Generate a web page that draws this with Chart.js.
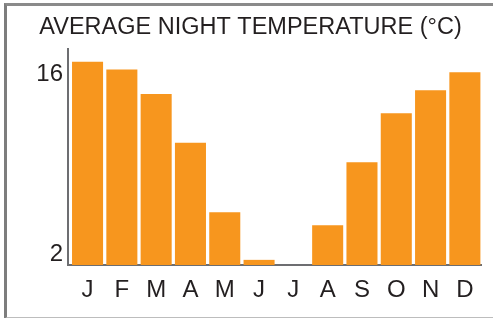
<!DOCTYPE html>
<html>
<head>
<meta charset="utf-8">
<script src="https://cdn.jsdelivr.net/npm/chart.js@4"></script>
<style>
  html, body { margin: 0; padding: 0; background: #fff; overflow: hidden; }
  #wrap { position: relative; width: 493px; height: 318px; }
  #frame {
    position: absolute; left: 4px; top: 3px; width: 600px; height: 311px;
    border-top: 3px solid #8a8a8a; border-left: 3px solid #7d7d7d; border-bottom: 2px solid #bdbdbd;
    box-sizing: content-box; pointer-events: none;
  }
  canvas { position: absolute; left: 0; top: 0; }
</style>
</head>
<body>
<div id="wrap">
  <canvas id="chart" width="493" height="318"></canvas>
  <div id="frame"></div>
</div>
<script>
  const months = ['J', 'F', 'M', 'A', 'M', 'J', 'J', 'A', 'S', 'O', 'N', 'D'];
  const nightTemps = [17.0, 16.4, 14.5, 10.7, 5.3, 1.6, 1.2, 4.3, 9.2, 13.0, 14.8, 16.2];
  const yTicks = [2, 16];

  const textColor = '#231f20';
  const axisColor = '#6d6e71';
  const font = 'Liberation Sans, Arial, sans-serif';

  // month index on a linear x axis so the first bar can sit a little off the y axis
  const points = nightTemps.map((v, i) => ({ x: i, y: v }));

  new Chart(document.getElementById('chart'), {
    type: 'bar',
    data: {
      datasets: [{
        data: points,
        backgroundColor: '#f7961e',
        borderWidth: 0,
        barPercentage: 0.905,
        categoryPercentage: 1
      }]
    },
    options: {
      responsive: false,
      animation: false,
      devicePixelRatio: 1,
      layout: { padding: { left: 20, right: 12, top: 0, bottom: 0 } },
      plugins: {
        legend: { display: false },
        tooltip: { enabled: false },
        title: {
          display: true,
          text: 'AVERAGE NIGHT TEMPERATURE (°C)',
          color: textColor,
          font: { family: font, size: 23.5, weight: 'normal', lineHeight: 1.2 },
          padding: { top: 13, bottom: 7.8 }
        }
      },
      scales: {
        x: {
          type: 'linear',
          z: 1,
          min: -0.57,
          max: 11.47,
          offset: false,
          grid: { display: false, drawTicks: false },
          border: { display: true, color: axisColor, width: 2 },
          afterBuildTicks: (scale) => { scale.ticks = months.map((m, i) => ({ value: i })); },
          ticks: {
            autoSkip: false,
            maxRotation: 0,
            color: textColor,
            padding: 11,
            font: { family: font, size: 24 },
            callback: (v) => months[v]
          },
          afterFit: (scale) => { scale.height = 53; }
        },
        y: {
          z: 1,
          min: 1.2,
          max: 18.0,
          grid: { display: false, drawTicks: false },
          border: { display: true, color: axisColor, width: 2 },
          afterBuildTicks: (scale) => { scale.ticks = yTicks.map(v => ({ value: v })); },
          ticks: {
            color: textColor,
            padding: 5,
            font: { family: font, size: 24 }
          },
          afterFit: (scale) => { scale.width = 48; }
        }
      }
    }
  });
</script>
</body>
</html>
